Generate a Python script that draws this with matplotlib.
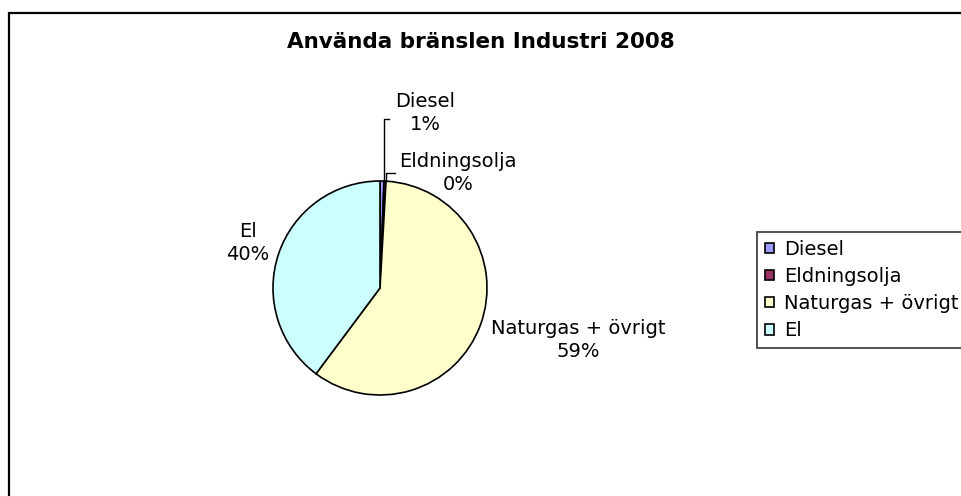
import matplotlib
matplotlib.use('Agg')
import matplotlib.pyplot as plt
from matplotlib.patches import Rectangle

# data
labels = ['Diesel', 'Eldningsolja', 'Naturgas + övrigt', 'El']
shares = [0.6, 0.3, 59.3, 39.8]
pct_text = ['1%', '0%', '59%', '40%']
colors = ['#9999FF', '#993366', '#FFFFCC', '#CCFFFF']

plt.rcParams['font.family'] = ['DejaVu Sans']
W, H = 962, 496
fig = plt.figure(figsize=(W / 100, H / 100), dpi=100)

# outer chart border (runs off the right and bottom edges)
fig.add_artist(Rectangle((9 / W, -0.1), 1.2, (H - 13) / H + 0.1,
                         transform=fig.transFigure, fill=False,
                         lw=1.6, ec='black'))

fig.text(287 / W, 1 - 42 / H, 'Använda bränslen Industri 2008',
         ha='left', va='center', fontsize=15.5, fontweight='bold')

# pie: center (380, 288) px, radius 107 px
cx, cy, r = 380, 288, 107
half = 150
ax = fig.add_axes([(cx - half) / W, (H - cy - half) / H, 2 * half / W, 2 * half / H])

wedges, _ = ax.pie(shares, colors=colors, startangle=90, counterclock=False,
                   radius=1, wedgeprops=dict(edgecolor='black', linewidth=1.2))
lim = half / r
ax.set_xlim(-lim, lim)
ax.set_ylim(-lim, lim)
ax.axis('off')


def px(x, y):
    return (x - cx) / r, (cy - y) / r


label_pos = [(425, 113), (458, 173), (578, 340), (248, 243)]
for name, pct, (lx, ly) in zip(labels, pct_text, label_pos):
    dx, dy = px(lx, ly)
    ax.text(dx, dy, name + '\n' + pct, ha='center', va='center',
            fontsize=14, linespacing=1.33, clip_on=False)

# leader lines for the two small slices
for pts in ([(384, 181), (384, 119), (389, 119)],
            [(386, 181), (386, 173), (395, 173)]):
    xs = [px(*p)[0] for p in pts]
    ys = [px(*p)[1] for p in pts]
    ax.plot(xs, ys, color='black', lw=1, clip_on=False)

leg = fig.legend(wedges, labels, loc='upper left',
                 bbox_to_anchor=(757 / W, 1 - 232 / H),
                 fontsize=14, frameon=True, fancybox=False,
                 handlelength=0.46, handleheight=0.46, handletextpad=0.55,
                 labelspacing=0.42, borderpad=0.4, borderaxespad=0)
leg.get_frame().set_edgecolor('black')
leg.get_frame().set_linewidth(1.2)
for h in leg.legend_handles:
    h.set_edgecolor('black')
    h.set_linewidth(1.2)

fig.savefig('out.png', dpi=100)
